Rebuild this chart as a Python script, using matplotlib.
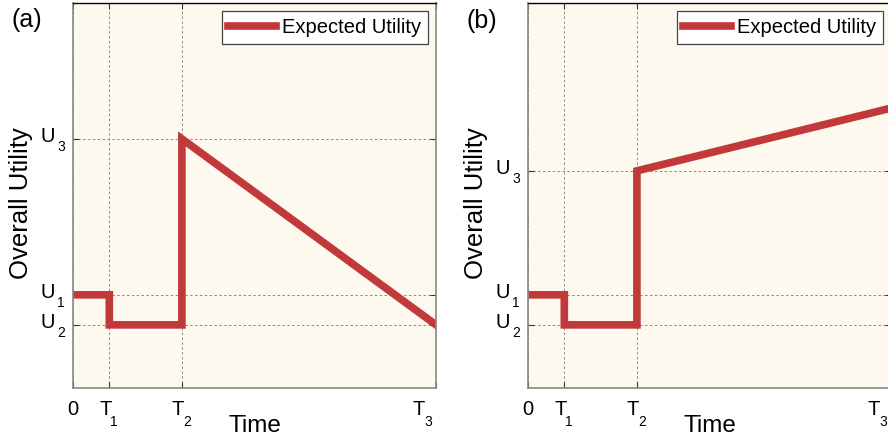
import matplotlib
matplotlib.use("Agg")
import matplotlib.pyplot as plt
from matplotlib.transforms import offset_copy, blended_transform_factory

plt.rcParams['font.family'] = ['Liberation Sans', 'DejaVu Sans']

# Time tick positions
T1, T2, T3 = 1.0, 3.0, 10.0
x_ticks = [0, T1, T2, T3]
x_tick_main = ['0', 'T', 'T', 'T']
x_tick_sub = ['', '1', '2', '3']

# Utility levels
U1, U2 = 2.42, 1.64
U3_a = 6.47
U3_b = 5.64
end_b = 7.27
y_tick_main = ['U', 'U', 'U']
y_tick_sub = ['2', '1', '3']

# Series (a)
xa = [0, T1, T1, T2, T2, T3]
ya = [U1, U1, U2, U2, U3_a, U2]
# Series (b)
xb = [0, T1, T1, T2, T2, T3]
yb = [U1, U1, U2, U2, U3_b, end_b]

line_color = '#C1393B'
bg = '#FEF9EE'

fig = plt.figure(figsize=(8.88, 4.45), dpi=100)
W, H = 888, 445
MAIN_FS = 14.5
SUB_FS = 10


def make_ax(left_px, xs, ys, u3):
    ax = fig.add_axes([left_px / W, (H - 388) / H, 363 / W, 385 / H])
    ax.set_facecolor(bg)
    ax.plot(xs, ys, color=line_color, lw=5.5, solid_joinstyle='miter',
            label='Expected Utility')
    ax.set_xlim(0, T3)
    ax.set_ylim(0, 10)
    yt = [U2, U1, u3]
    ax.set_xticks(x_ticks)
    ax.set_xticklabels([])
    ax.set_yticks(yt)
    ax.set_yticklabels([])
    ax.tick_params(direction='in', length=4, width=0.8, top=True, right=True,
                   color='#333333')
    ax.grid(True, color='#888888', linestyle=(0, (2.5, 2.5)), linewidth=0.7)
    for s in ['left', 'bottom', 'right']:
        ax.spines[s].set_color('#888888')
        ax.spines[s].set_linewidth(1.2)
    ax.spines['top'].set_color('black')
    ax.spines['top'].set_linewidth(1.0)

    # y tick labels: U with lowered subscript
    ty = blended_transform_factory(ax.transAxes, ax.transData)
    for v, m, s in zip(yt, y_tick_main, y_tick_sub):
        ax.text(0, v, m, fontsize=MAIN_FS, ha='right', va='baseline',
                transform=offset_copy(ty, fig=fig, x=-18, y=-3, units='dots'))
        ax.text(0, v, s, fontsize=SUB_FS, ha='left', va='baseline',
                transform=offset_copy(ty, fig=fig, x=-16, y=-12.5, units='dots'))

    # x tick labels
    tx = blended_transform_factory(ax.transData, ax.transAxes)
    for v, m, s in zip(x_ticks, x_tick_main, x_tick_sub):
        if s == '':
            ax.text(v, 0, m, fontsize=MAIN_FS, ha='center', va='baseline',
                    transform=offset_copy(tx, fig=fig, x=0, y=-27, units='dots'))
            continue
        dx = -4 if v < T3 else -17
        ax.text(v, 0, m, fontsize=MAIN_FS, ha='center', va='baseline',
                transform=offset_copy(tx, fig=fig, x=dx, y=-27, units='dots'))
        ax.text(v, 0, s, fontsize=SUB_FS, ha='left', va='baseline',
                transform=offset_copy(tx, fig=fig, x=dx + 5, y=-38, units='dots'))

    leg = ax.legend(loc='upper right', fontsize=14.5, fancybox=False,
                    framealpha=1, edgecolor='#444444', handlelength=2.35,
                    borderpad=0.33, handletextpad=0.3, borderaxespad=0.42)
    leg.get_frame().set_linewidth(0.9)
    return ax


axa = make_ax(73, xa, ya, U3_a)
axb = make_ax(528, xb, yb, U3_b)

# axis titles
for left_px in (73, 528):
    fig.text((left_px + 181.5) / W, 1 - 432 / H, 'Time', fontsize=17.5,
             ha='center', va='baseline')
    fig.text((left_px - 52) / W, 1 - 203 / H, 'Overall Utility', fontsize=18.5,
             ha='center', va='center', rotation=90)

fig.text(11 / W, 1 - 20 / H, '(a)', fontsize=18, va='center', ha='left')
fig.text(466 / W, 1 - 21 / H, '(b)', fontsize=18, va='center', ha='left')

fig.savefig('out.png', dpi=100)
